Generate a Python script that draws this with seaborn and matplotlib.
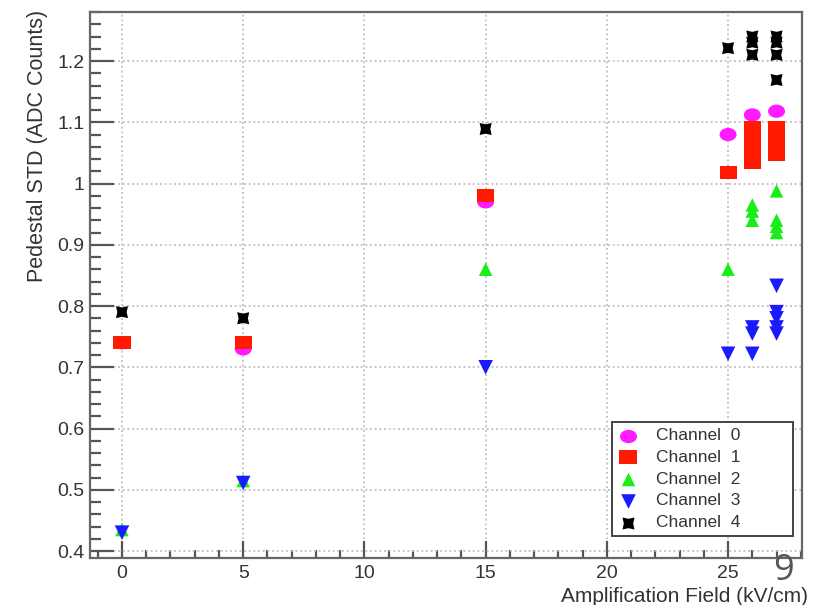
import numpy as np
import pandas as pd
import matplotlib
matplotlib.use("Agg")
import matplotlib.pyplot as plt
from matplotlib.path import Path
from matplotlib.ticker import MultipleLocator, FixedLocator
import seaborn as sns

# ---------------- data ----------------
ch0_x = [0, 5, 15, 25, 26, 27]
ch0_y = [0.74, 0.73, 0.97, 1.08, 1.112, 1.118]

ch1_x = [0, 5, 15, 25, 26, 26, 26, 26, 26, 26, 26, 27, 27, 27, 27, 27, 27]
ch1_y = [0.74, 0.74, 0.98, 1.018, 1.034, 1.045, 1.055, 1.065, 1.075, 1.085, 1.092,
         1.048, 1.058, 1.068, 1.078, 1.086, 1.092]

ch2_x = [0, 5, 15, 25, 26, 26, 26, 27, 27, 27, 27]
ch2_y = [0.435, 0.515, 0.86, 0.86, 0.965, 0.955, 0.94, 0.988, 0.94, 0.93, 0.92]

ch3_x = [0, 5, 15, 25, 26, 26, 26, 27, 27, 27, 27, 27]
ch3_y = [0.43, 0.511, 0.70, 0.722, 0.765, 0.755, 0.722, 0.833, 0.79, 0.78, 0.765, 0.755]

ch4_x = [0, 5, 15, 25, 26, 26, 26, 27, 27, 27, 27]
ch4_y = [0.79, 0.78, 1.089, 1.221, 1.24, 1.23, 1.21, 1.24, 1.23, 1.21, 1.169]

channels = ["Channel  0", "Channel  1", "Channel  2", "Channel  3", "Channel  4"]
xs = [ch0_x, ch1_x, ch2_x, ch3_x, ch4_x]
ys = [ch0_y, ch1_y, ch2_y, ch3_y, ch4_y]

x_label = "Amplification Field (kV/cm)"
y_label = "Pedestal STD (ADC Counts)"
x_ticks = [0, 5, 10, 15, 20, 25]
y_ticks = [0.4, 0.5, 0.6, 0.7, 0.8, 0.9, 1.0, 1.1, 1.2]
y_ticklabels = ["0.4", "0.5", "0.6", "0.7", "0.8", "0.9", "1", "1.1", "1.2"]
page_number = "9"

# ---------------- styling ----------------
sns.set_theme(style="white")
plt.rcParams["font.family"] = ["Liberation Sans", "DejaVu Sans"]

# flattened markers (original picture is stretched horizontally)
circ = Path.unit_circle()
ellipse = Path(circ.vertices * np.array([1.0, 0.78]), circ.codes)
rect = Path([(-1, -0.78), (1, -0.78), (1, 0.78), (-1, 0.78), (-1, -0.78)],
            [Path.MOVETO, Path.LINETO, Path.LINETO, Path.LINETO, Path.CLOSEPOLY])
# chunky four-point star like ROOT's full star marker
ang = np.linspace(0, 2 * np.pi, 9)[:-1] + np.pi / 4
rad = np.where(np.arange(8) % 2 == 0, 1.0, 0.55)
star_v = np.column_stack([rad * np.cos(ang), rad * np.sin(ang)])
star_v = np.vstack([star_v, star_v[:1]])
star = Path(star_v, [Path.MOVETO] + [Path.LINETO] * 7 + [Path.CLOSEPOLY])

colors = ["#ff1aff", "#ff1a00", "#1aee1a", "#1a1aff", "#000000"]
markers = [ellipse, rect, "^", "v", star]
sizes = [150, 150, 95, 110, 75]

fig = plt.figure(figsize=(8.29, 6.05), dpi=100)
ax = fig.add_axes([90 / 829, 1 - 558 / 605, 712 / 829, 546 / 605])

handles = []
for name, x, y, c, m, s in zip(channels, xs, ys, colors, markers, sizes):
    df = pd.DataFrame({"x": x, "y": y})
    sns.scatterplot(data=df, x="x", y="y", ax=ax, color=c, marker=m, s=s,
                    linewidth=0, edgecolor="none", zorder=3)
    h = ax.scatter([], [], color=c, marker=m, s=s, linewidth=0)
    handles.append(h)

ax.set_xlim(-1.32, 28.05)
ax.set_ylim(0.3886, 1.28)

ax.xaxis.set_major_locator(FixedLocator(x_ticks))
ax.xaxis.set_minor_locator(MultipleLocator(1))
ax.yaxis.set_major_locator(FixedLocator(y_ticks))
ax.set_yticklabels(y_ticklabels)
ax.yaxis.set_minor_locator(MultipleLocator(0.02))

ax.tick_params(axis="both", which="both", direction="in", colors="#555555",
               labelcolor="#333333", labelsize=14, top=False, right=False)
ax.tick_params(axis="y", which="major", length=17, width=1.6, pad=4)
ax.tick_params(axis="y", which="minor", length=8, width=1.6)
ax.tick_params(axis="x", which="major", length=12, width=1.6, pad=5)
ax.tick_params(axis="x", which="minor", length=6, width=1.6)
ax.tick_params(axis="x", which="both", bottom=True)
ax.tick_params(axis="y", which="both", left=True)

ax.grid(True, which="major", color="#bdbdbd", linestyle=(0, (1.2, 1.6)), linewidth=1.2)
ax.set_axisbelow(True)

for sp in ax.spines.values():
    sp.set_color("#666666")
    sp.set_linewidth(1.6)

ax.set_xlabel("")
ax.set_ylabel("")
fig.text(808 / 829, 1 - 597 / 605, x_label, ha="right", va="center",
         fontsize=15, color="#333333")
fig.text(38 / 829, 1 - 10 / 605, y_label, ha="center", va="top",
         rotation=90, fontsize=15.5, color="#333333")

leg = ax.legend(handles, channels, loc="lower left",
                bbox_to_anchor=(0.733, 0.040, 0.254, 0.218), mode="expand",
                borderaxespad=0,
                frameon=True, fancybox=False, framealpha=1, edgecolor="#444444",
                fontsize=12.5, labelspacing=0.38, handletextpad=1.0,
                borderpad=0.35, handlelength=1.2, scatterpoints=1)
leg.get_frame().set_linewidth(1.4)
for t in leg.get_texts():
    t.set_color("#333333")

fig.text(784 / 829, 1 - 571 / 605, page_number, ha="center", va="center",
         fontsize=26, color="#555555", family=["Open Sans", "DejaVu Sans"])

fig.savefig("out.png", dpi=100, facecolor="white")
